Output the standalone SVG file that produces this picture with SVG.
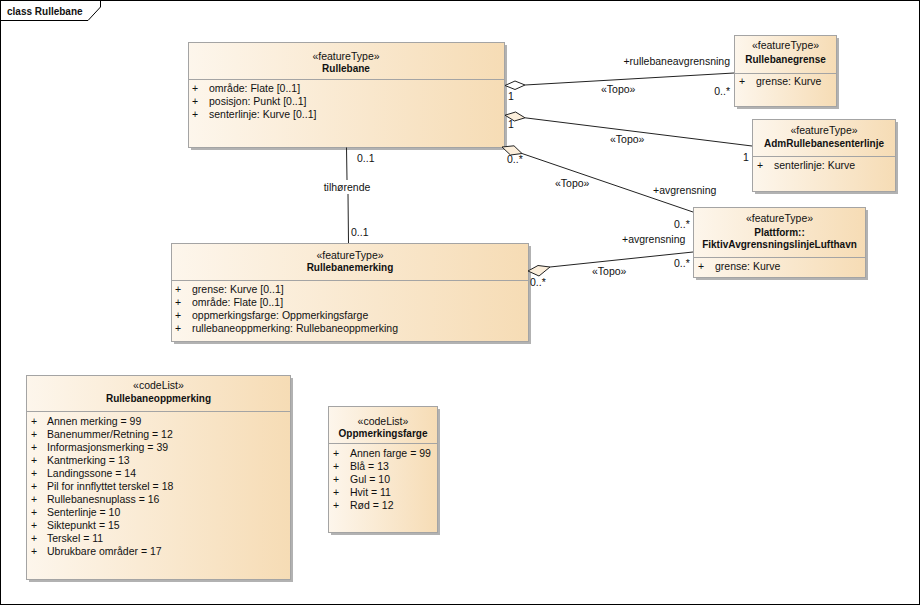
<svg xmlns="http://www.w3.org/2000/svg" width="921" height="606" viewBox="0 0 921 606">
<defs>
<linearGradient id="bg" x1="0" y1="0" x2="1" y2="0">
<stop offset="0" stop-color="#fdf6ec"/>
<stop offset="1" stop-color="#f6dcb5"/>
</linearGradient>
<style>
text{font-family:"Liberation Sans",Arial,sans-serif;font-size:10.5px;fill:#111}
.b{font-weight:bold;font-size:10px}
.c{text-anchor:middle}
.r{text-anchor:end}
.box{fill:url(#bg);stroke:#a4a4a4;stroke-width:1}
.sh{fill:#b2b2b2}
.div{stroke:#a4a4a4;stroke-width:1}
.ln{stroke:#222;stroke-width:1;fill:none}
.dw{fill:#fff;stroke:#222;stroke-width:1}
.db{fill:#fbeedb;stroke:#222;stroke-width:1}
</style>
</defs>
<rect x="0" y="0" width="921" height="606" fill="#fff"/>
<g id="frame">
<rect x="0.5" y="0.5" width="919" height="604" fill="none" stroke="#000"/>
<path d="M0.5,20.5 H88 L100.5,7 V0.5" fill="none" stroke="#000"/>
<text x="7" y="14.5" class="b">class Rullebane</text>
</g>

<g id="Rullebane">
<rect class="sh" x="191" y="45" width="316" height="105"/>
<rect class="box" x="188.5" y="42.5" width="316" height="105"/>
<line class="div" x1="188.5" y1="79.5" x2="504.5" y2="79.5"/>
<text class="c" x="346" y="59.5">«featureType»</text>
<text class="c b" x="346" y="72">Rullebane</text>
<text x="192" y="92">+</text><text x="209" y="92">område: Flate [0..1]</text>
<text x="192" y="105">+</text><text x="209" y="105">posisjon: Punkt [0..1]</text>
<text x="192" y="118">+</text><text x="209" y="118">senterlinje: Kurve [0..1]</text>
</g>

<g id="Rullebanegrense">
<rect class="sh" x="737" y="38" width="102" height="71"/>
<rect class="box" x="734.5" y="35.5" width="102" height="71"/>
<line class="div" x1="734.5" y1="73.5" x2="836.5" y2="73.5"/>
<text class="c" x="785.5" y="49">«featureType»</text>
<text class="c b" x="785.5" y="63">Rullebanegrense</text>
<text x="739" y="85">+</text><text x="756" y="85">grense: Kurve</text>
</g>

<g id="AdmRullebanesenterlinje">
<rect class="sh" x="755" y="122" width="143" height="72"/>
<rect class="box" x="752.5" y="119.5" width="143" height="72"/>
<line class="div" x1="752.5" y1="156.5" x2="895.5" y2="156.5"/>
<text class="c" x="824" y="134">«featureType»</text>
<text class="c b" x="824" y="147">AdmRullebanesenterlinje</text>
<text x="757" y="169">+</text><text x="774" y="169">senterlinje: Kurve</text>
</g>

<g id="FiktivAvgrensningslinjeLufthavn">
<rect class="sh" x="696" y="210" width="172" height="70"/>
<rect class="box" x="693.5" y="207.5" width="172" height="70"/>
<line class="div" x1="693.5" y1="257.5" x2="865.5" y2="257.5"/>
<text class="c" x="779.5" y="222">«featureType»</text>
<text class="c b" x="779.5" y="235.5">Plattform::</text>
<text class="c b" x="779.5" y="248">FiktivAvgrensningslinjeLufthavn</text>
<text x="698" y="270">+</text><text x="715" y="270">grense: Kurve</text>
</g>

<g id="Rullebanemerking">
<rect class="sh" x="174" y="246" width="357" height="98"/>
<rect class="box" x="171.5" y="243.5" width="357" height="98"/>
<line class="div" x1="171.5" y1="280.5" x2="528.5" y2="280.5"/>
<text class="c" x="350" y="259">«featureType»</text>
<text class="c b" x="350" y="271">Rullebanemerking</text>
<text x="175" y="293">+</text><text x="192" y="293">grense: Kurve [0..1]</text>
<text x="175" y="306">+</text><text x="192" y="306">område: Flate [0..1]</text>
<text x="175" y="319">+</text><text x="192" y="319">oppmerkingsfarge: Oppmerkingsfarge</text>
<text x="175" y="332">+</text><text x="192" y="332">rullebaneoppmerking: Rullebaneoppmerking</text>
</g>

<g id="Rullebaneoppmerking">
<rect class="sh" x="29" y="378" width="264" height="204"/>
<rect class="box" x="26.5" y="375.5" width="264" height="204"/>
<line class="div" x1="26.5" y1="411.5" x2="290.5" y2="411.5"/>
<text class="c" x="158.5" y="389">«codeList»</text>
<text class="c b" x="158.5" y="402">Rullebaneoppmerking</text>
<text x="31" y="425">+</text><text x="47" y="425">Annen merking = 99</text>
<text x="31" y="438">+</text><text x="47" y="438">Banenummer/Retning = 12</text>
<text x="31" y="451">+</text><text x="47" y="451">Informasjonsmerking = 39</text>
<text x="31" y="464">+</text><text x="47" y="464">Kantmerking = 13</text>
<text x="31" y="477">+</text><text x="47" y="477">Landingssone = 14</text>
<text x="31" y="490">+</text><text x="47" y="490">Pil for innflyttet terskel = 18</text>
<text x="31" y="503">+</text><text x="47" y="503">Rullebanesnuplass = 16</text>
<text x="31" y="516">+</text><text x="47" y="516">Senterlinje = 10</text>
<text x="31" y="529">+</text><text x="47" y="529">Siktepunkt = 15</text>
<text x="31" y="542">+</text><text x="47" y="542">Terskel = 11</text>
<text x="31" y="555">+</text><text x="47" y="555">Ubrukbare områder = 17</text>
</g>

<g id="Oppmerkingsfarge">
<rect class="sh" x="331" y="409" width="109" height="126"/>
<rect class="box" x="328.5" y="406.5" width="109" height="126"/>
<line class="div" x1="328.5" y1="443.5" x2="437.5" y2="443.5"/>
<text class="c" x="383" y="425">«codeList»</text>
<text class="c b" x="383" y="437">Oppmerkingsfarge</text>
<text x="333" y="457">+</text><text x="350" y="457">Annen farge = 99</text>
<text x="333" y="470">+</text><text x="350" y="470">Blå = 13</text>
<text x="333" y="483">+</text><text x="350" y="483">Gul = 10</text>
<text x="333" y="496">+</text><text x="350" y="496">Hvit = 11</text>
<text x="333" y="509">+</text><text x="350" y="509">Rød = 12</text>
</g>

<g id="connectors">
<!-- Rullebane - Rullebanegrense -->
<line class="ln" x1="525" y1="85" x2="734" y2="73"/>
<polygon class="dw" points="505,85.5 515,81 525,85 515,89.5"/>
<text x="508" y="100">1</text>
<text class="r" x="730" y="65">+rullebaneavgrensning</text>
<text class="r" x="730" y="95">0..*</text>
<text x="601" y="93">«Topo»</text>
<!-- Rullebane - AdmRullebanesenterlinje -->
<line class="ln" x1="525" y1="117.8" x2="752" y2="146"/>
<polygon class="db" points="505,115.2 515.6,112 525,117.8 514.4,121"/>
<text x="508" y="128">1</text>
<text x="610" y="143">«Topo»</text>
<text x="743" y="161">1</text>
<!-- Rullebane - Fiktiv -->
<line class="ln" x1="522" y1="153.5" x2="693" y2="212"/>
<polygon class="db" points="502,147 514,145.8 522,153.5 510.5,155"/>
<text x="507" y="163">0..*</text>
<text x="555" y="187">«Topo»</text>
<text x="653" y="194">+avgrensning</text>
<text x="674" y="228">0..*</text>
<!-- Rullebanemerking - Fiktiv -->
<line class="ln" x1="550" y1="267" x2="693" y2="252"/>
<polygon class="db" points="528,271 538,265.5 550,267 539,276"/>
<text x="530" y="286">0..*</text>
<text x="592" y="275">«Topo»</text>
<text x="622" y="243">+avgrensning</text>
<text x="674" y="267">0..*</text>
<!-- Rullebane - Rullebanemerking -->
<polyline class="ln" points="346.5,147.5 347,180"/>
<polyline class="ln" points="348,194 348.5,243"/>
<text x="357" y="162">0..1</text>
<text class="c" x="347" y="191">tilhørende</text>
<text x="351" y="236">0..1</text>
</g>
</svg>
